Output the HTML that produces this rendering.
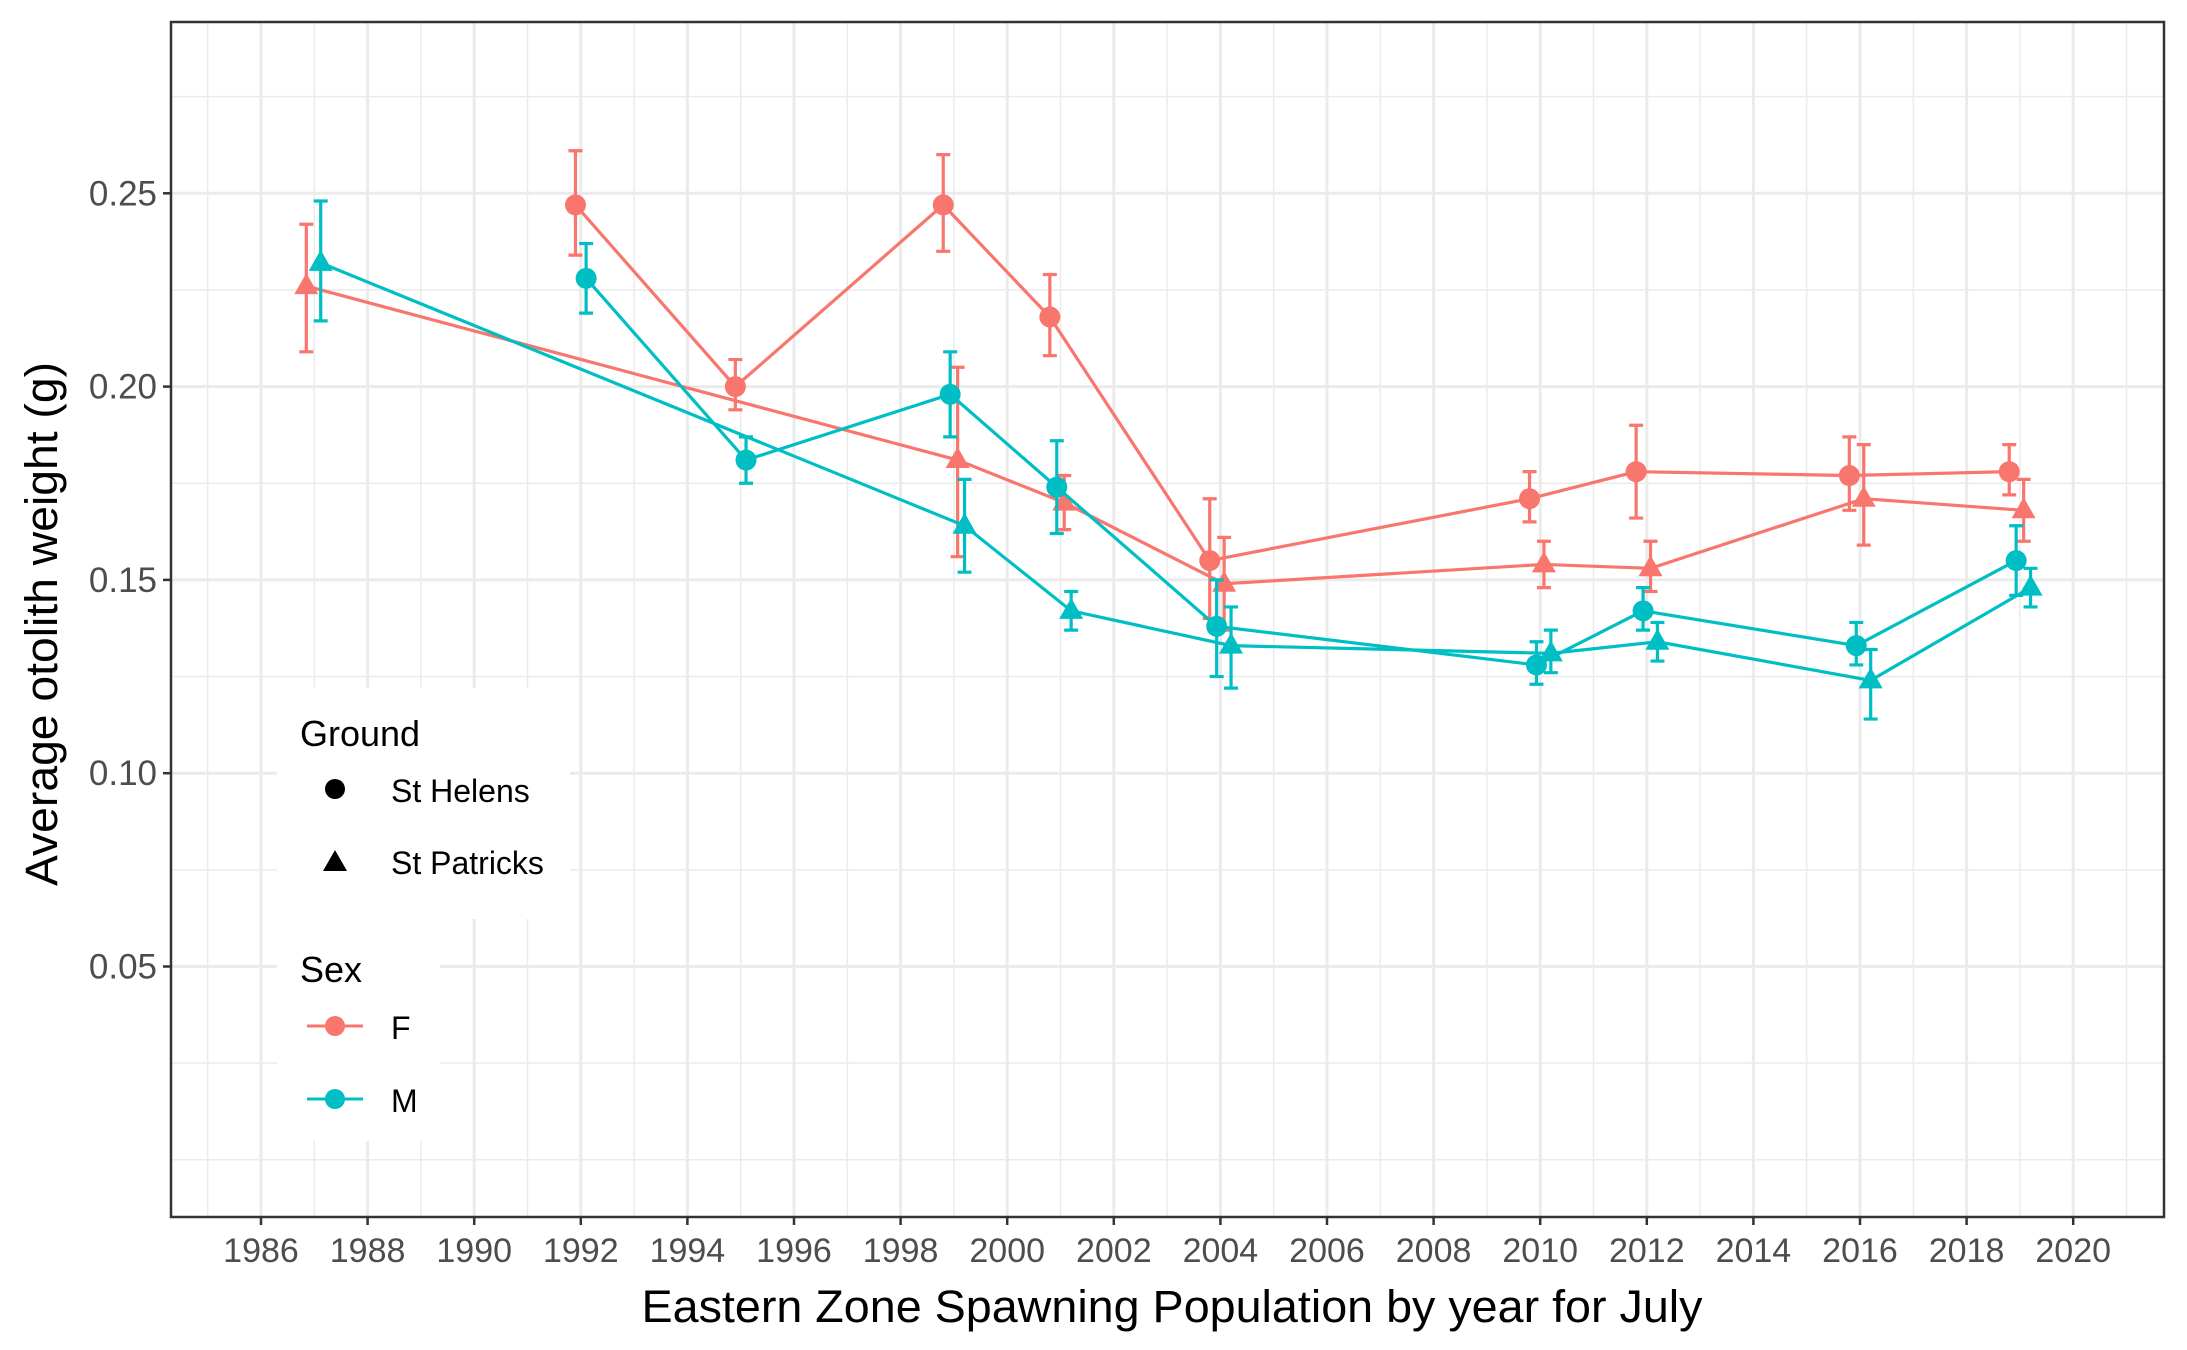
<!DOCTYPE html>
<html><head><meta charset="utf-8"><style>
html,body{margin:0;padding:0;background:#fff;}
svg{display:block;font-family:"Liberation Sans",sans-serif;}
</style></head><body>
<svg id="chart" width="2187" height="1350" viewBox="0 0 2187 1350">
<rect x="0" y="0" width="2187" height="1350" fill="#fff"/>
<g id="grid"></g>
<g id="series"></g>
<rect x="171" y="22" width="1993" height="1195" fill="none" stroke="#333" stroke-width="2.5"/>
<g id="axes"></g>
<text x="1172" y="1322" font-size="45" text-anchor="middle" textLength="1061" lengthAdjust="spacingAndGlyphs" fill="#000">Eastern Zone Spawning Population by year for July</text>
<text transform="translate(57,624) rotate(-90)" font-size="45" text-anchor="middle" textLength="524" lengthAdjust="spacingAndGlyphs" fill="#000">Average otolith weight (g)</text>
<g>
<rect x="277" y="688" width="293" height="231" fill="#fff"/>
<text x="300" y="746" font-size="36" fill="#000">Ground</text>
<g><circle cx="335" cy="789" r="10" fill="#000"/><text x="391" y="802" font-size="32" fill="#000">St Helens</text></g>
<g><polygon points="335,850 347,871 323,871" fill="#000"/><text x="391" y="874" font-size="32" fill="#000">St Patricks</text></g>
</g>
<g>
<rect x="277" y="919" width="163" height="222" fill="#fff"/>
<text x="300" y="982" font-size="36" fill="#000">Sex</text>
<g><line x1="307" y1="1026" x2="363" y2="1026" stroke="#F8766D" stroke-width="3"/><circle cx="335" cy="1026" r="10" fill="#F8766D"/><text x="391" y="1039" font-size="32" fill="#000">F</text></g>
<g><line x1="307" y1="1099" x2="363" y2="1099" stroke="#00BFC4" stroke-width="3"/><circle cx="335" cy="1099" r="10" fill="#00BFC4"/><text x="391" y="1112" font-size="32" fill="#000">M</text></g>
</g>
</svg>
<script>
const yTicks=[0.05,0.10,0.15,0.20,0.25];
const yTickLabels=["0.05","0.10","0.15","0.20","0.25"];
const xTicks=[1986,1988,1990,1992,1994,1996,1998,2000,2002,2004,2006,2008,2010,2012,2014,2016,2018,2020];
// St Helens F (circle)
const hfYears=[1991.9,1994.9,1998.8,2000.8,2003.8,2009.8,2011.8,2015.8,2018.8];
const hfVals=[0.247,0.200,0.247,0.218,0.155,0.171,0.178,0.177,0.178];
const hfLo=[0.234,0.194,0.235,0.208,0.140,0.165,0.166,0.168,0.172];
const hfHi=[0.261,0.207,0.260,0.229,0.171,0.178,0.190,0.187,0.185];
// St Helens M (circle)
const hmYears=[1992.1,1995.1,1998.93,2000.93,2003.93,2009.93,2011.93,2015.93,2018.93];
const hmVals=[0.228,0.181,0.198,0.174,0.138,0.128,0.142,0.133,0.155];
const hmLo=[0.219,0.175,0.187,0.162,0.125,0.123,0.137,0.128,0.146];
const hmHi=[0.237,0.187,0.209,0.186,0.150,0.134,0.148,0.139,0.164];
// St Patricks F (triangle)
const pfYears=[1986.85,1999.07,2001.07,2004.07,2010.07,2012.07,2016.07,2019.07];
const pfVals=[0.226,0.181,0.170,0.149,0.154,0.153,0.171,0.168];
const pfLo=[0.209,0.156,0.163,0.137,0.148,0.147,0.159,0.160];
const pfHi=[0.242,0.205,0.177,0.161,0.160,0.160,0.185,0.176];
// St Patricks M (triangle)
const pmYears=[1987.12,1999.2,2001.2,2004.2,2010.2,2012.2,2016.2,2019.2];
const pmVals=[0.232,0.164,0.142,0.133,0.131,0.134,0.124,0.148];
const pmLo=[0.217,0.152,0.137,0.122,0.126,0.129,0.114,0.143];
const pmHi=[0.248,0.176,0.147,0.143,0.137,0.139,0.132,0.153];

const NS="http://www.w3.org/2000/svg";
const X0=171,X1=2164,Y0=22,Y1=1217;
function xs(yr){return 261+(yr-1986)*53.3;}
function ys(v){return 193.3+(0.25-v)*3866;}
function mk(tag,attrs,parent){const e=document.createElementNS(NS,tag);for(const k in attrs)e.setAttribute(k,attrs[k]);parent.appendChild(e);return e;}
const grid=document.getElementById('grid'),axes=document.getElementById('axes'),ser=document.getElementById('series');
[0.025,0.075,0.125,0.175,0.225,0.275,0.0].forEach(v=>{const y=ys(v);if(y>Y0&&y<Y1){const l=mk('line',{x1:X0,x2:X1,y1:y,y2:y,stroke:'#EBEBEB','stroke-width':1.5},grid);

}});
for(let yr=1985;yr<=2021;yr+=2){const x=xs(yr);if(x>X0&&x<X1){const l=mk('line',{x1:x,x2:x,y1:Y0,y2:Y1,stroke:'#EBEBEB','stroke-width':1.5},grid);

}}
yTicks.forEach((v,i)=>{const y=ys(v);const l=mk('line',{x1:X0,x2:X1,y1:y,y2:y,stroke:'#EBEBEB','stroke-width':3},grid);


const t=mk('line',{x1:X0-8,x2:X0,y1:y,y2:y,stroke:'#333','stroke-width':2.5},axes);


const tx=mk('text',{x:X0-14,y:y+12,'font-size':35,'text-anchor':'end',fill:'#4D4D4D'},axes);tx.textContent=yTickLabels[i];

});
xTicks.forEach(yr=>{const x=xs(yr);const l=mk('line',{x1:x,x2:x,y1:Y0,y2:Y1,stroke:'#EBEBEB','stroke-width':3},grid);


const t=mk('line',{x1:x,x2:x,y1:Y1,y2:Y1+8,stroke:'#333','stroke-width':2.5},axes);


const tx=mk('text',{x:x,y:Y1+45,'font-size':34,'text-anchor':'middle',fill:'#4D4D4D'},axes);tx.textContent=String(yr);

});
function series(name,years,vals,lo,hi,color,shape){
  const g=mk('g',{},ser);
  
  
  const pts=years.map((yr,i)=>xs(yr)+','+ys(vals[i])).join(' ');
  const pl=mk('polyline',{points:pts,fill:'none',stroke:color,'stroke-width':3.2},g);
  
  
  years.forEach((yr,i)=>{const x=xs(yr),a=ys(lo[i]),b=ys(hi[i]);
    const e=mk('path',{d:`M${x-7},${a}H${x+7}M${x},${a}V${b}M${x-7},${b}H${x+7}`,stroke:color,'stroke-width':3.2,fill:'none'},g);
    
    
    const y=ys(vals[i]);let p;
    if(shape==='c'){p=mk('circle',{cx:x,cy:y,r:10.5,fill:color},g);}
    else{p=mk('polygon',{points:`${x},${y-13} ${x+12},${y+8} ${x-12},${y+8}`,fill:color},g);}
    
    
  });
}
series('st-patricks-f',pfYears,pfVals,pfLo,pfHi,'#F8766D','t');
series('st-helens-f',hfYears,hfVals,hfLo,hfHi,'#F8766D','c');
series('st-patricks-m',pmYears,pmVals,pmLo,pmHi,'#00BFC4','t');
series('st-helens-m',hmYears,hmVals,hmLo,hmHi,'#00BFC4','c');
</script>
</body></html>
